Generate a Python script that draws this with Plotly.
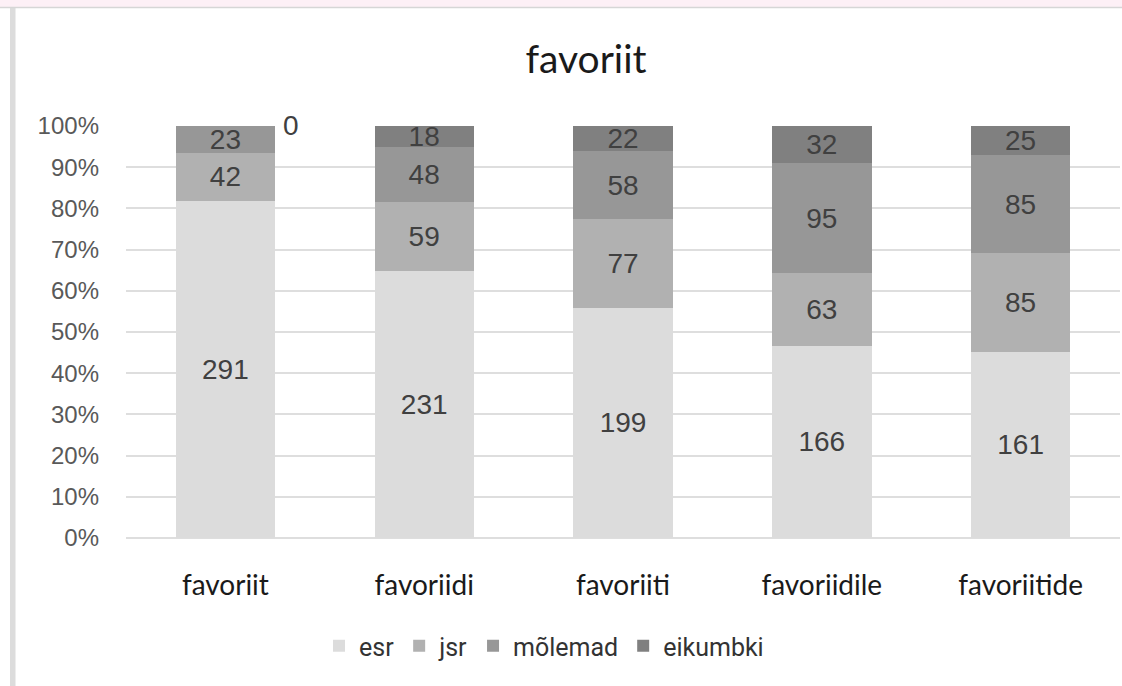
import plotly.graph_objects as go

categories = ["favoriit", "favoriidi", "favoriiti", "favoriidile", "favoriitide"]
esr = [291, 231, 199, 166, 161]
jsr = [42, 59, 77, 63, 85]
molemad = [23, 48, 58, 95, 85]
eikumbki = [0, 18, 22, 32, 25]

series_names = ["esr", "jsr", "mõlemad", "eikumbki"]
series_values = [esr, jsr, molemad, eikumbki]
series_colors = ["#dcdcdc", "#b1b1b1", "#979797", "#808080"]

y_ticks = list(range(0, 101, 10))
y_tick_labels = [f"{v}%" for v in y_ticks]

W, H = 1122, 686
L, R, T, B = 126, 2, 126, 148
pw = W - L - R
ph = H - T - B


def px_x(px):
    return (px - L) / pw


def px_y(py):
    return (H - B - py) / ph


label_font = dict(family="Liberation Sans, Arial, sans-serif", size=28, color="#404040")

fig = go.Figure()
for name, vals, col in zip(series_names, series_values, series_colors):
    fig.add_trace(go.Bar(
        x=categories, y=vals, name=name,
        marker=dict(color=col, line=dict(width=0)),
        text=[str(v) if v else "" for v in vals],
        textposition="inside", insidetextanchor="middle",
        textangle=0, constraintext="none",
        textfont=label_font,
    ))

annotations = []
for cat, v in zip(categories, eikumbki):
    if v == 0:
        annotations.append(dict(
            x=cat, y=100, xref="x", yref="y", text=str(v), showarrow=False,
            xshift=66, yshift=1, font=label_font,
            xanchor="center", yanchor="middle"))

shapes = [
    dict(type="rect", xref="paper", yref="paper",
         x0=px_x(-2), x1=px_x(W + 2), y0=px_y(7), y1=px_y(-2),
         fillcolor="#fdf0f6", line=dict(width=0), layer="below"),
    dict(type="line", xref="paper", yref="paper",
         x0=px_x(-2), x1=px_x(W + 2), y0=px_y(7.5), y1=px_y(7.5),
         line=dict(color="#d6d6d6", width=1.5)),
    dict(type="rect", xref="paper", yref="paper",
         x0=px_x(10), x1=px_x(15.5), y0=px_y(H + 2), y1=px_y(8),
         fillcolor="#dcdcdc", line=dict(width=0), layer="below"),
]

fig.update_layout(
    width=W, height=H,
    margin=dict(l=L, r=R, t=T, b=B, pad=0),
    paper_bgcolor="white", plot_bgcolor="white",
    barmode="stack", barnorm="percent", bargap=0.5,
    title=dict(text="favoriit", x=586 / W, xanchor="center", xref="container",
               y=1 - 59 / H, yanchor="middle", yref="container",
               font=dict(family="Lato, sans-serif", size=39, color="#1a1a1a")),
    xaxis=dict(showgrid=False, showline=False, zeroline=False, ticks="",
               tickfont=dict(family="Lato, sans-serif", size=28, color="#1a1a1a"),
               ticklabelstandoff=28),
    yaxis=dict(range=[0, 100], tickvals=y_ticks, ticktext=y_tick_labels,
               showgrid=True, gridcolor="#dedede", gridwidth=2,
               zeroline=True, zerolinecolor="#dedede", zerolinewidth=2,
               showline=False, ticks="",
               tickfont=dict(family="Liberation Sans, Arial, sans-serif", size=24, color="#595959"),
               ticklabelstandoff=26),
    legend=dict(orientation="h", x=px_x(319), xanchor="left",
                y=px_y(646), yanchor="middle", traceorder="normal",
                font=dict(family="Roboto, sans-serif", size=25, color="#333333"),
                bgcolor="rgba(0,0,0,0)"),
    annotations=annotations,
    shapes=shapes,
    showlegend=True,
)

fig.write_html(
    "out.html",
    config={"displayModeBar": False},
    post_script="document.body.style.margin='0';document.body.style.overflow='hidden';",
)
